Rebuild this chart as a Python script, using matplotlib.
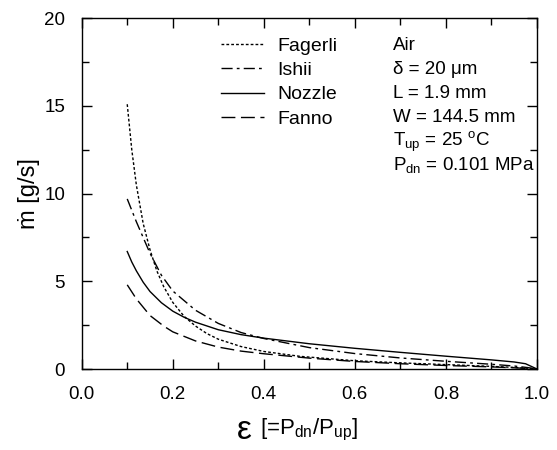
import numpy as np
import matplotlib
matplotlib.use('Agg')
from matplotlib import pyplot as plt
from matplotlib.ticker import MultipleLocator, FormatStrFormatter

plt.rcParams['font.family'] = ['Liberation Sans', 'DejaVu Sans']
plt.rcParams['mathtext.fontset'] = 'custom'
plt.rcParams['mathtext.rm'] = 'Liberation Sans'
plt.rcParams['mathtext.it'] = 'Liberation Sans:italic'

# pressure ratio and mass flow rate [g/s]
eps_fagerli = [0.10, 0.11, 0.12, 0.135, 0.15, 0.165, 0.18, 0.20, 0.225, 0.25, 0.275, 0.30, 0.35,
               0.40, 0.48, 0.60, 0.70, 0.80, 0.90, 0.95, 0.98, 1.00]
m_fagerli = [15.1, 12.5, 10.5, 8.3, 6.8, 5.6, 4.7, 3.8, 3.0, 2.45, 2.02, 1.7, 1.28,
             1.0, 0.72, 0.47, 0.35, 0.25, 0.15, 0.09, 0.04, 0.0]

eps_ishii = [0.10, 0.12, 0.15, 0.175, 0.20, 0.25, 0.30, 0.35, 0.40, 0.50, 0.60, 0.70, 0.80,
             0.90, 0.95, 0.98, 1.00]
m_ishii = [9.7, 8.4, 6.6, 5.35, 4.45, 3.35, 2.6, 2.08, 1.74, 1.22, 0.88, 0.63, 0.44,
           0.27, 0.17, 0.08, 0.0]

eps_nozzle = [0.10, 0.11, 0.12, 0.135, 0.15, 0.175, 0.20, 0.225, 0.25, 0.30, 0.35, 0.40, 0.50,
              0.60, 0.70, 0.80, 0.90, 0.95, 0.975, 1.00]
m_nozzle = [6.7, 6.1, 5.6, 4.95, 4.42, 3.78, 3.3, 2.95, 2.67, 2.24, 1.96, 1.76, 1.44,
            1.18, 0.95, 0.73, 0.52, 0.4, 0.3, 0.0]

eps_fanno = [0.10, 0.12, 0.15, 0.18, 0.20, 0.25, 0.30, 0.35, 0.40, 0.50, 0.60, 0.70, 0.80,
             0.90, 0.95, 1.00]
m_fanno = [4.8, 4.0, 3.05, 2.45, 2.12, 1.6, 1.25, 1.02, 0.87, 0.62, 0.43, 0.3, 0.2,
           0.12, 0.07, 0.0]

info = ['Air', 'δ = 20 μm', 'L = 1.9 mm', 'W = 144.5 mm',
        r'T$_{\rm up}$ = 25 $^{\rm o}$C', r'P$_{\rm dn}$ = 0.101 MPa']

fig = plt.figure(figsize=(5.57, 4.5), dpi=100)
ax = fig.add_axes([0.1467, 0.18, 0.8173, 0.7793])

ax.plot(eps_fagerli, m_fagerli, color='black', lw=1.0, ls=(0, (2, 1.5)), label='Fagerli')
ax.plot(eps_ishii, m_ishii, color='black', lw=1.0, ls=(0, (8, 3, 2, 3)), label='Ishii')
ax.plot(eps_nozzle, m_nozzle, color='black', lw=1.0, ls='-', label='Nozzle')
ax.plot(eps_fanno, m_fanno, color='black', lw=1.0, ls=(0, (10, 4)), label='Fanno')

ax.set_xlim(0, 1)
ax.set_ylim(0, 20)
ax.xaxis.set_major_locator(MultipleLocator(0.2))
ax.xaxis.set_minor_locator(MultipleLocator(0.1))
ax.xaxis.set_major_formatter(FormatStrFormatter('%.1f'))
ax.yaxis.set_major_locator(MultipleLocator(5))
ax.yaxis.set_minor_locator(MultipleLocator(2.5))
ax.tick_params(which='both', direction='in', top=True, right=True, labelsize=13.5, width=1.0)
ax.tick_params(which='major', length=7, pad=12)
ax.tick_params(which='minor', length=5)
for s in ax.spines.values():
    s.set_linewidth(1.0)

ax.set_ylabel('ṁ [g/s]', fontsize=17, labelpad=3)
ax.set_xlabel(r'[=P$_{\rm dn}$/P$_{\rm up}$]', fontsize=16, labelpad=10)
ax.annotate('ε', xy=(0, 0.45), xycoords=ax.xaxis.label, xytext=(-6, 0),
            textcoords='offset points', ha='right', va='center', fontsize=24)

leg = ax.legend(loc='upper left', bbox_to_anchor=(0.28, 0.98), frameon=False,
                fontsize=14, handlelength=2.2, handletextpad=0.7, labelspacing=0.35,
                borderaxespad=0.2)

y0 = 0.923
for i, t in enumerate(info):
    ax.text(0.683, y0 - i * 0.0685, t, transform=ax.transAxes, fontsize=13.5, va='center')

fig.savefig('out.png', dpi=100)
